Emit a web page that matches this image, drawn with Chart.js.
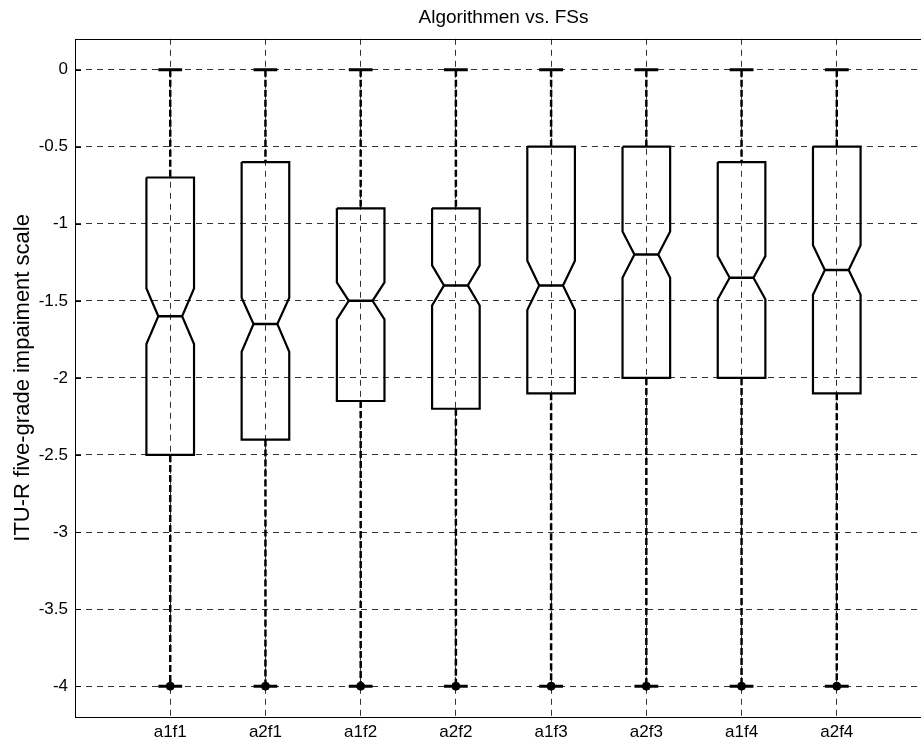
<!DOCTYPE html>
<html>
<head>
<meta charset="utf-8">
<script src="https://cdn.jsdelivr.net/npm/chart.js@4/dist/chart.umd.min.js"></script>
<style>
  html, body { margin: 0; padding: 0; background: #fff; overflow: hidden; }
  #wrap { width: 940px; height: 743px; }
</style>
</head>
<body>
<div id="wrap"><canvas id="box_chart" width="940" height="743"></canvas></div>
<script>
// Data

const groups = ['a1f1', 'a2f1', 'a1f2', 'a2f2', 'a1f3', 'a2f3', 'a1f4', 'a2f4'];
const whiskerHi = [0, 0, 0, 0, 0, 0, 0, 0];
const q3 = [-0.7, -0.6, -0.9, -0.9, -0.5, -0.5, -0.6, -0.5];
const notchHi = [-1.42, -1.48, -1.38, -1.27, -1.24, -1.05, -1.21, -1.14];
const medians = [-1.6, -1.65, -1.5, -1.4, -1.4, -1.2, -1.35, -1.3];
const notchLo = [-1.78, -1.83, -1.62, -1.53, -1.56, -1.35, -1.49, -1.46];
const q1 = [-2.5, -2.4, -2.15, -2.2, -2.1, -2.0, -2.0, -2.1];
const whiskerLo = [-4, -4, -4, -4, -4, -4, -4, -4];
const outliers = [-4, -4, -4, -4, -4, -4, -4, -4];
const yTicks = [0, -0.5, -1, -1.5, -2, -2.5, -3, -3.5, -4];

// Styles

const FONT = "'Liberation Sans', Arial, sans-serif";
const boxHalf = 0.25;
const notchHalf = 0.125;
const capHalf = 0.125;

const datasets = [];

groups.forEach((g, i) => {
    const x = i + 1;
    // notched box
    datasets.push({
        label: g,
        data: [
            {x: x - boxHalf, y: q3[i]},
            {x: x + boxHalf, y: q3[i]},
            {x: x + boxHalf, y: notchHi[i]},
            {x: x + notchHalf, y: medians[i]},
            {x: x + boxHalf, y: notchLo[i]},
            {x: x + boxHalf, y: q1[i]},
            {x: x - boxHalf, y: q1[i]},
            {x: x - boxHalf, y: notchLo[i]},
            {x: x - notchHalf, y: medians[i]},
            {x: x - boxHalf, y: notchHi[i]},
            {x: x - boxHalf, y: q3[i]}
        ],
        showLine: true,
        borderColor: '#000',
        borderWidth: 2.2,
        pointRadius: 0,
        tension: 0
    });
    // median
    datasets.push({
        data: [{x: x - notchHalf, y: medians[i]}, {x: x + notchHalf, y: medians[i]}],
        showLine: true, borderColor: '#000', borderWidth: 2.5, pointRadius: 0
    });
    // whiskers
    datasets.push({
        data: [{x: x, y: whiskerHi[i]}, {x: x, y: q3[i]}],
        showLine: true, borderColor: '#000', borderWidth: 2.5, borderDash: [7, 3], pointRadius: 0
    });
    datasets.push({
        data: [{x: x, y: q1[i]}, {x: x, y: whiskerLo[i]}],
        showLine: true, borderColor: '#000', borderWidth: 2.5, borderDash: [7, 3], pointRadius: 0
    });
    // caps
    datasets.push({
        data: [{x: x - capHalf, y: whiskerHi[i]}, {x: x + capHalf, y: whiskerHi[i]}],
        showLine: true, borderColor: '#000', borderWidth: 3, pointRadius: 0
    });
    datasets.push({
        data: [{x: x - capHalf, y: whiskerLo[i]}, {x: x + capHalf, y: whiskerLo[i]}],
        showLine: true, borderColor: '#000', borderWidth: 3, pointRadius: 0
    });
});

datasets.push({
    label: 'outliers',
    data: outliers.map((v, i) => ({x: i + 1, y: v})),
    showLine: false,
    pointRadius: 4,
    pointBackgroundColor: '#000',
    pointBorderColor: '#000'
});

// Frame round the plot area, with short inward ticks on the left
const framePlugin = {
    id: 'frame',
    afterDraw(chart) {
        const a = chart.chartArea;
        const ctx = chart.ctx;
        const ys = chart.scales.y;
        ctx.save();
        ctx.strokeStyle = '#000';
        ctx.lineWidth = 1;
        ctx.strokeRect(Math.round(a.left) + 0.5, Math.round(a.top) + 0.5,
            Math.round(a.right - a.left), Math.round(a.bottom - a.top));
        ctx.beginPath();
        yTicks.forEach(v => {
            const py = Math.round(ys.getPixelForValue(v)) + 0.5;
            ctx.moveTo(a.left, py);
            ctx.lineTo(a.left + 6, py);
        });
        ctx.stroke();
        ctx.restore();
    }
};

const gridStyle = {
    color: 'rgba(0,0,0,0.8)',
    lineWidth: 1,
    drawTicks: false
};

const box_chart = new Chart(document.getElementById('box_chart'), {
    type: 'scatter',
    data: { datasets: datasets },
    options: {
        responsive: false,
        animation: false,
        layout: { padding: { left: 0, right: 8, top: 0, bottom: 0 } },
        plugins: {
            legend: { display: false },
            tooltip: { enabled: false },
            title: {
                display: true,
                text: 'Algorithmen vs. FSs',
                fullSize: false,
                color: '#000',
                font: { family: FONT, size: 19, weight: 'normal', lineHeight: 1.2 },
                padding: { top: 6, bottom: 10 }
            }
        },
        scales: {
            x: {
                type: 'linear',
                min: 0,
                max: 9,
                afterBuildTicks: (scale) => {
                    scale.ticks = groups.map((g, i) => ({ value: i + 1 }));
                },
                afterFit: (scale) => { scale.height = 26; },
                ticks: {
                    color: '#000',
                    padding: 5,
                    font: { family: FONT, size: 17 },
                    callback: (v) => groups[v - 1] || ''
                },
                grid: gridStyle,
                border: { display: false, dash: [6, 5] }
            },
            y: {
                min: -4.2,
                max: 0.2,
                afterBuildTicks: (scale) => {
                    scale.ticks = yTicks.map(v => ({ value: v }));
                },
                afterFit: (scale) => { scale.width = 75; },
                ticks: {
                    color: '#000',
                    padding: 7,
                    font: { family: FONT, size: 17 },
                    callback: (v) => String(v)
                },
                title: {
                    display: true,
                    text: 'ITU-R five-grade impaiment scale',
                    color: '#000',
                    font: { family: FONT, size: 22, lineHeight: 1.2 },
                    padding: { top: 10, bottom: 0 }
                },
                grid: gridStyle,
                border: { display: false, dash: [6, 5] }
            }
        }
    },
    plugins: [framePlugin]
});
</script>
</body>
</html>
